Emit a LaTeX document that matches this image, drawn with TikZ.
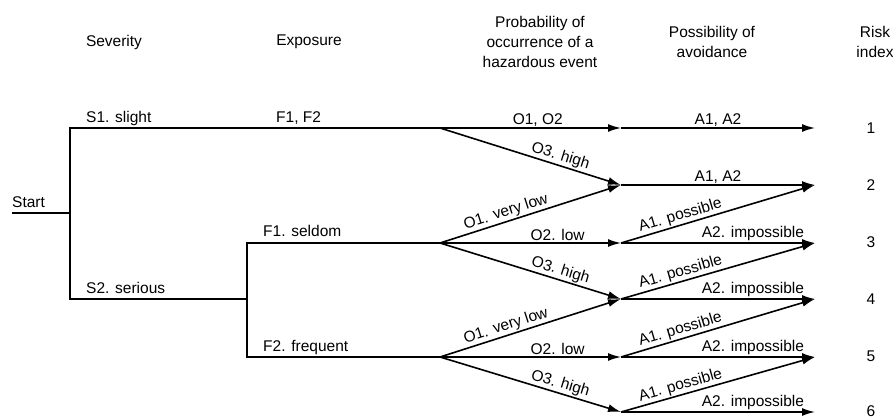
\documentclass[tikz,border=0pt]{standalone}
\usepackage{fontspec}
\setmainfont{Liberation Sans}
\usetikzlibrary{arrows.meta}
\begin{document}
\begin{tikzpicture}[x=1pt,y=-1pt,
  line/.style={line width=1.6pt,line join=miter},
  arr/.style={line, -{Latex[length=13pt,width=8pt]}},
  lab/.style={font=\fontsize{15.5}{20}\selectfont, inner sep=1.2pt},
  hdr/.style={font=\fontsize{15.5}{20}\selectfont, align=center, inner sep=0pt},
  txt/.style={font=\fontsize{15.5}{20}\selectfont, inner sep=0pt, anchor=base west}]
\useasboundingbox (0,0) rectangle (893,419);
% junction points
\coordinate (st) at (12,213);
\coordinate (sv) at (70,213);
\coordinate (s1a) at (70,128);
\coordinate (s2a) at (70,299);
\coordinate (f) at (247,299);
\coordinate (f1a) at (247,243);
\coordinate (f2a) at (247,357);
\coordinate (p1) at (440,128);
\coordinate (p2) at (440,243);
\coordinate (p3) at (440,357);
\coordinate (q1) at (621,128);
\coordinate (q2) at (621,185);
\coordinate (q3) at (621,243);
\coordinate (q4) at (621,299);
\coordinate (q5) at (621,357);
\coordinate (q6) at (621,412);
\coordinate (r1) at (815,128);
\coordinate (r2) at (815,185);
\coordinate (r3) at (815,243);
\coordinate (r4) at (815,299);
\coordinate (r5) at (815,357);
\coordinate (r6) at (815,412);
% headers
\node[hdr] (hs) at (114,42) {Severity};
\node[hdr] (he) at (309,42) {Exposure};
\node[hdr] (hp) at (540,42) {Probability of\\occurrence of a\\hazardous event};
\node[hdr] (ha) at (712,42) {Possibility of\\avoidance};
\node[hdr] (hr) at (875,42) {Risk\\index};
% left-side texts
\node[txt] (tstart) at (12,208) {Start};
\node[txt] (ts1) at (86,123) {S1. slight};
\node[txt] (tf12) at (276,123) {F1, F2};
\node[txt] (ts2) at (86,294) {S2. serious};
\node[txt] (tf1) at (263,237) {F1. seldom};
\node[txt] (tf2) at (263,351) {F2. frequent};
% risk indices
\foreach \i/\y in {1/128,2/185,3/242,4/299,5/356,6/411}
  \node[hdr] (ri\i) at (871,\y) {\i};
% tree lines
\draw[line] (st) -- (sv);
\draw[line] (p1) -- (s1a) -- (s2a) -- (f);
\draw[line] (p2) -- (f1a) -- (f2a) -- (p3);
% O-branches
\draw[arr] (p1) -- node[lab,above,pos=0.54] {O1, O2} (q1);
\draw[arr] (p1) -- node[lab,above,sloped,pos=0.65] {O3. high} (q2);
\draw[arr] (p2) -- node[lab,above,sloped,pos=0.38] {O1. very low} (q2);
\draw[arr] (p2) -- node[lab,above,pos=0.65] {O2. low} (q3);
\draw[arr] (p2) -- node[lab,above,sloped,pos=0.65] {O3. high} (q4);
\draw[arr] (p3) -- node[lab,above,sloped,pos=0.38] {O1. very low} (q4);
\draw[arr] (p3) -- node[lab,above,pos=0.65] {O2. low} (q5);
\draw[arr] (p3) -- node[lab,above,sloped,pos=0.65] {O3. high} (q6);
% A-branches
\draw[arr] (q1) -- node[lab,above] {A1, A2} (r1);
\draw[arr] (q2) -- node[lab,above] {A1, A2} (r2);
\draw[arr] (q3) -- node[lab,above,sloped,pos=0.32] {A1. possible} (r2);
\draw[arr] (q3) -- node[lab,above,pos=0.68] {A2. impossible} (r3);
\draw[arr] (q4) -- node[lab,above,sloped,pos=0.32] {A1. possible} (r3);
\draw[arr] (q4) -- node[lab,above,pos=0.68] {A2. impossible} (r4);
\draw[arr] (q5) -- node[lab,above,sloped,pos=0.32] {A1. possible} (r4);
\draw[arr] (q5) -- node[lab,above,pos=0.68] {A2. impossible} (r5);
\draw[arr] (q6) -- node[lab,above,sloped,pos=0.32] {A1. possible} (r5);
\draw[arr] (q6) -- node[lab,above,pos=0.68] {A2. impossible} (r6);
\end{tikzpicture}
\end{document}
